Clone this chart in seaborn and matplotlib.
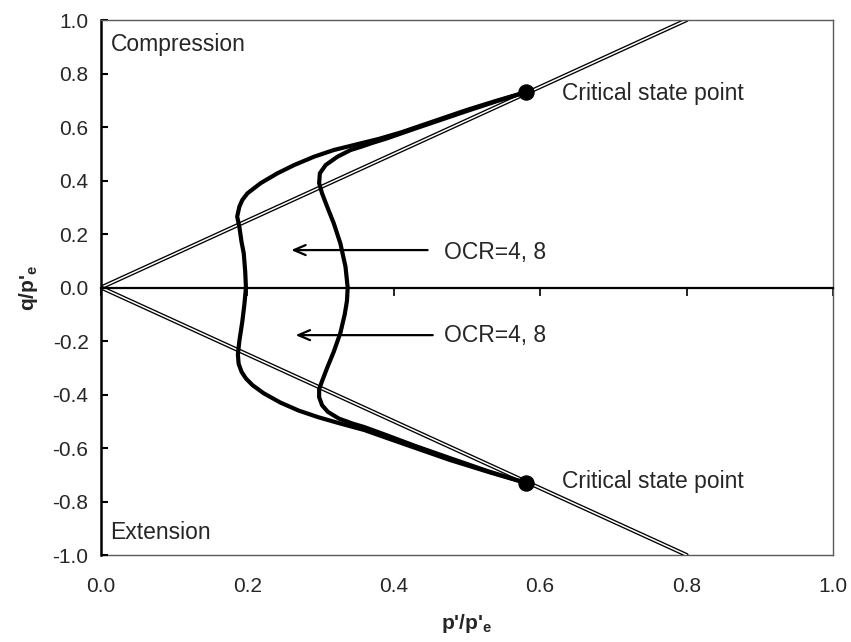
import numpy as np
import pandas as pd
import matplotlib
matplotlib.use("Agg")
import matplotlib.pyplot as plt
import seaborn as sns

sns.set_theme(style="white")
plt.rcParams['font.family'] = ['Liberation Sans', 'DejaVu Sans']
plt.rcParams['mathtext.fontset'] = 'custom'
plt.rcParams['mathtext.bf'] = 'Liberation Sans:bold'
plt.rcParams['mathtext.rm'] = 'Liberation Sans'

# critical state lines (compression / extension)
csl_p = [0.0, 0.8]
csl_q_comp = [0.0, 1.0]
csl_q_ext = [0.0, -1.0]

# undrained stress path, left curve (critical state -> p0 -> critical state)
ocr8_p = [0.58, 0.54, 0.50, 0.455, 0.41, 0.38, 0.355, 0.318, 0.291, 0.264,
          0.241, 0.218, 0.200, 0.193, 0.189, 0.186, 0.189, 0.192, 0.195,
          0.197, 0.198,
          0.196, 0.193, 0.189, 0.187, 0.188, 0.192, 0.198, 0.207, 0.222,
          0.245, 0.27, 0.297, 0.325, 0.36, 0.39, 0.435, 0.477, 0.53, 0.58]
ocr8_q = [0.73, 0.698, 0.664, 0.622, 0.58, 0.556, 0.539, 0.514, 0.489, 0.458,
          0.427, 0.39, 0.352, 0.327, 0.302, 0.265, 0.227, 0.17, 0.128,
          0.06, 0.0,
          -0.06, -0.128, -0.20, -0.25, -0.285, -0.315, -0.34, -0.365, -0.395,
          -0.43, -0.46, -0.485, -0.507, -0.533, -0.562, -0.605, -0.645, -0.69, -0.73]

# undrained stress path, right curve
ocr4_p = [0.58, 0.54, 0.50, 0.43, 0.39, 0.37, 0.355, 0.341, 0.323, 0.307,
          0.299, 0.298, 0.302, 0.309, 0.318, 0.327, 0.334, 0.337,
          0.336, 0.333, 0.327, 0.318, 0.309, 0.302, 0.298, 0.298, 0.302,
          0.31, 0.325, 0.343, 0.36, 0.39, 0.43, 0.477, 0.53, 0.58]
ocr4_q = [0.73, 0.696, 0.66, 0.595, 0.557, 0.54, 0.526, 0.514, 0.489, 0.458,
          0.427, 0.39, 0.352, 0.302, 0.24, 0.165, 0.078, 0.0,
          -0.05, -0.10, -0.17, -0.24, -0.30, -0.35, -0.38, -0.41, -0.44,
          -0.465, -0.49, -0.508, -0.522, -0.552, -0.593, -0.638, -0.688, -0.73]

cs_p = [0.58, 0.58]
cs_q = [0.73, -0.73]

ticks = [0.0, 0.2, 0.4, 0.6, 0.8, 1.0]
yticks = [-1.0, -0.8, -0.6, -0.4, -0.2, 0.0, 0.2, 0.4, 0.6, 0.8, 1.0]

fig = plt.figure(figsize=(8.51, 6.42), dpi=100)
ax = fig.add_axes([0.1187, 0.1355, 0.8601, 0.8333])

# double lines: thick black with a thin white core
for qs in [csl_q_comp, csl_q_ext]:
    sns.lineplot(x=csl_p, y=qs, ax=ax, color='black', lw=3.0, sort=False, estimator=None)
    sns.lineplot(x=csl_p, y=qs, ax=ax, color='white', lw=1.1, sort=False, estimator=None)

for ps, qs in [(ocr8_p, ocr8_q), (ocr4_p, ocr4_q)]:
    df = pd.DataFrame({'p': ps, 'q': qs})
    sns.lineplot(data=df, x='p', y='q', ax=ax, color='black', lw=3.0,
                 sort=False, estimator=None, solid_joinstyle='round',
                 solid_capstyle='round')

sns.scatterplot(x=cs_p, y=cs_q, ax=ax, color='black', s=120, edgecolor='black', zorder=5)

ax.set_xlim(0, 1)
ax.set_ylim(-1, 1)
ax.set_xlabel('')
ax.set_ylabel("q/p'$_\\mathbf{e}$", fontsize=15, fontweight='bold', labelpad=9)

# horizontal axis crosses at q = 0
ax.spines['bottom'].set_position(('data', 0))
ax.spines['bottom'].set_color('black')
ax.spines['bottom'].set_linewidth(1.6)
ax.spines['left'].set_color('black')
ax.spines['left'].set_linewidth(1.8)
for s in ['top', 'right']:
    ax.spines[s].set_color('#5a5a5a')
    ax.spines[s].set_linewidth(1.0)

ax.set_xticks(ticks)
ax.set_yticks(yticks)
ax.set_yticklabels([f'{v:.1f}' for v in yticks])
ax.tick_params(axis='x', direction='out', length=6, width=1.2, color='black',
               bottom=True, labelbottom=False)
ax.tick_params(axis='y', direction='in', length=5, width=1.5, color='black',
               left=True, labelsize=15, pad=9)

sec = ax.secondary_xaxis('bottom')
sec.set_xticks(ticks)
sec.set_xticklabels([f'{v:.1f}' for v in ticks])
sec.tick_params(axis='x', length=0, labelsize=15, pad=16)
sec.spines['bottom'].set_color('#5a5a5a')
sec.spines['bottom'].set_linewidth(1.0)
sec.set_xlabel("p'/p'$_\\mathbf{e}$", fontsize=15, fontweight='bold', labelpad=11)

ax.text(0.013, 0.91, 'Compression', fontsize=16.5, va='center', ha='left')
ax.text(0.013, -0.914, 'Extension', fontsize=16.5, va='center', ha='left')
ax.text(0.63, 0.727, 'Critical state point', fontsize=16.5, va='center', ha='left')
ax.text(0.63, -0.727, 'Critical state point', fontsize=16.5, va='center', ha='left')

arrow = dict(arrowstyle='->,head_length=0.7,head_width=0.3', lw=1.6, color='black')
ax.annotate('', xy=(0.256, 0.14), xytext=(0.45, 0.14), arrowprops=arrow)
ax.annotate('', xy=(0.262, -0.178), xytext=(0.457, -0.178), arrowprops=arrow)
ax.text(0.469, 0.13, 'OCR=4, 8', fontsize=16.5, va='center', ha='left')
ax.text(0.469, -0.178, 'OCR=4, 8', fontsize=16.5, va='center', ha='left')

fig.savefig('out.png', dpi=100)
